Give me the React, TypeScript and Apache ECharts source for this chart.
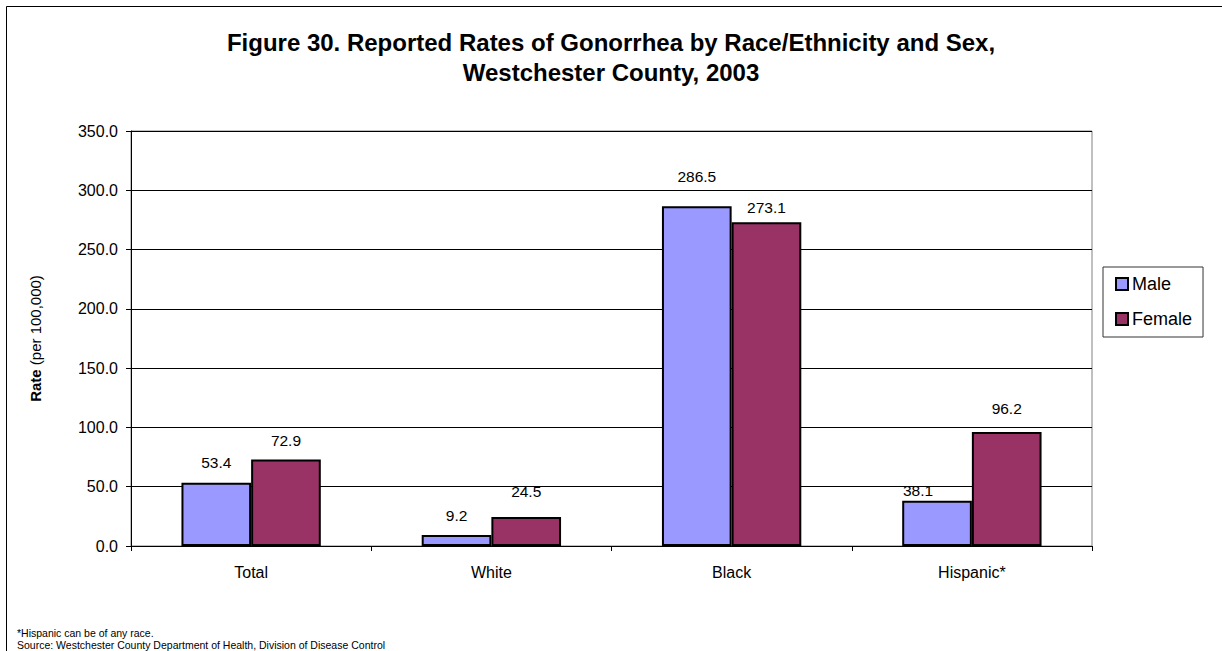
import React, { useEffect, useRef } from "react";
import * as echarts from "echarts";

const categories = ["Total", "White", "Black", "Hispanic*"];
const maleValues = [53.4, 9.2, 286.5, 38.1];
const femaleValues = [72.9, 24.5, 273.1, 96.2];
const seriesNames = ["Male", "Female"];
const yTicks = { min: 0, max: 350, interval: 50 };
const titleLines = [
  "Figure 30. Reported Rates of Gonorrhea by Race/Ethnicity and Sex,",
  "Westchester County, 2003",
];
const footnotes = [
  "*Hispanic can be of any race.",
  "Source: Westchester County Department of Health, Division of Disease Control",
];
// manual nudges of the data labels (as in the original chart)
const maleLabelNudge = [[0, 0], [0, 0], [0, -10], [-19, 10]];
const femaleLabelNudge = [[0, 1], [0, -5], [0, 5], [0, -3]];

const FONT = "'Liberation Sans', Arial, Helvetica, sans-serif";

export default function App() {
  const ref = useRef<HTMLDivElement>(null);
  useEffect(() => {
    if (!ref.current) return;
    const chart = echarts.init(ref.current, undefined, { renderer: "svg" });
    const labelCfg = {
      show: true,
      position: "top",
      distance: 12,
      color: "#000",
      fontSize: 15.5,
      fontFamily: FONT,
      formatter: (p: any) => Number(p.value).toFixed(1),
    };
    const withNudge = (vals: number[], nudges: number[][]) =>
      vals.map((v, i) => ({ value: v, label: { offset: nudges[i] } }));
    chart.setOption({
      animation: false,
      backgroundColor: "#fff",
      textStyle: { fontFamily: FONT },
      title: {
        text: titleLines.join("\n"),
        left: "center",
        top: 22,
        textStyle: {
          fontSize: 24,
          fontWeight: "bold",
          color: "#000",
          fontFamily: FONT,
          lineHeight: 30,
        },
      },
      grid: {
        left: 131,
        right: 130,
        top: 131,
        bottom: 105,
        show: true,
        borderColor: "#808080",
        borderWidth: 1,
        containLabel: false,
      },
      legend: {
        orient: "vertical",
        left: 1103,
        top: 267,
        padding: [8, 11, 9, 12],
        itemWidth: 12,
        itemHeight: 12,
        itemGap: 17,
        icon: "rect",
        borderColor: "#333",
        borderWidth: 1,
        textStyle: { fontSize: 18, color: "#000", fontFamily: FONT, padding: [0, 0, 0, -1] },
        data: seriesNames,
      },
      xAxis: {
        type: "category",
        data: categories,
        axisLine: { lineStyle: { color: "#000", width: 1 } },
        axisTick: { show: true, length: 5, lineStyle: { color: "#000" } },
        axisLabel: { color: "#000", fontSize: 16, margin: 18, fontFamily: FONT },
      },
      yAxis: {
        type: "value",
        min: yTicks.min,
        max: yTicks.max,
        interval: yTicks.interval,
        axisLine: { show: true, lineStyle: { color: "#000", width: 1 } },
        axisTick: { show: true, length: 5, lineStyle: { color: "#000" } },
        axisLabel: {
          color: "#000",
          fontSize: 16,
          margin: 13,
          fontFamily: FONT,
          formatter: (v: number) => v.toFixed(1),
        },
        splitLine: { show: true, lineStyle: { color: "#000", width: 1 } },
        name: "{b|Rate} (per 100,000)",
        nameLocation: "middle",
        nameGap: 88,
        nameRotate: 90,
        nameTextStyle: {
          color: "#000",
          fontSize: 15,
          fontFamily: FONT,
          rich: {
            b: { fontWeight: "bold", fontSize: 15, color: "#000", fontFamily: FONT },
          },
        },
      },
      series: [
        {
          name: seriesNames[0],
          type: "bar",
          data: withNudge(maleValues, maleLabelNudge),
          barGap: "0%",
          barCategoryGap: "42%",
          itemStyle: { color: "#9999FF", borderColor: "#000", borderWidth: 2 },
          label: labelCfg,
        },
        {
          name: seriesNames[1],
          type: "bar",
          data: withNudge(femaleValues, femaleLabelNudge),
          barGap: "0%",
          barCategoryGap: "42%",
          itemStyle: { color: "#993366", borderColor: "#000", borderWidth: 2 },
          label: labelCfg,
        },
      ],
      graphic: [
        {
          type: "rect",
          shape: { x: 6.5, y: 6.5, width: 1400, height: 800 },
          style: { fill: "none", stroke: "#000", lineWidth: 1 },
          silent: true,
          z: 100,
        },
        {
          type: "text",
          left: 17,
          top: 627,
          style: { text: footnotes[0], fontSize: 10.5, fill: "#000", fontFamily: FONT },
        },
        {
          type: "text",
          left: 17,
          top: 639,
          style: { text: footnotes[1], fontSize: 10.5, fill: "#000", fontFamily: FONT },
        },
      ],
    });
    return () => chart.dispose();
  }, []);
  return (
    <div
      ref={ref}
      style={{ width: 1222, height: 651, position: "absolute", left: 0, top: 0 }}
    />
  );
}
